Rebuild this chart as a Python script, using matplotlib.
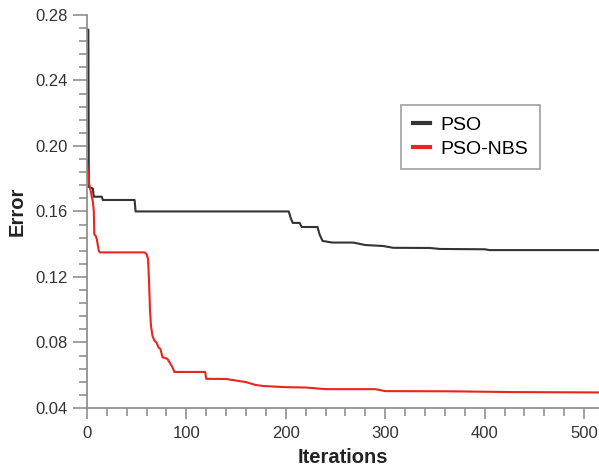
import matplotlib
matplotlib.use("Agg")
import matplotlib.pyplot as plt
from matplotlib.ticker import MultipleLocator

plt.rcParams['font.family'] = ['Liberation Sans', 'DejaVu Sans']

# PSO convergence
pso_iter = [0, 1.5, 2, 6, 7, 15, 16, 48, 49, 203, 205, 207, 214, 216, 232, 234, 237,
            247, 268, 280, 298, 308, 345, 355, 400, 405, 515]
pso_err = [0.271, 0.271, 0.175, 0.174, 0.169, 0.169, 0.167, 0.167, 0.160, 0.160, 0.156,
           0.153, 0.153, 0.1505, 0.1505, 0.146, 0.142, 0.141, 0.141, 0.1395, 0.1389,
           0.1378, 0.1377, 0.1371, 0.1369, 0.1364, 0.1364]

# PSO-NBS convergence
nbs_iter = [0, 2, 4, 6, 7, 7.5, 9, 10, 12, 13, 58, 60, 61.5, 62.5, 63.5, 64.5, 66, 68,
            70, 72, 74, 76, 81, 84, 86, 88, 119, 120, 140, 160, 170, 178, 200, 220,
            240, 290, 300, 363, 430, 515]
nbs_err = [0.191, 0.178, 0.172, 0.166, 0.160, 0.146, 0.145, 0.143, 0.136, 0.135, 0.135,
           0.134, 0.131, 0.118, 0.100, 0.090, 0.084, 0.081, 0.080, 0.077, 0.076, 0.071,
           0.070, 0.067, 0.065, 0.062, 0.062, 0.0578, 0.0577, 0.0558, 0.054, 0.0534,
           0.0527, 0.0525, 0.0515, 0.0515, 0.0503, 0.0502, 0.0497, 0.0495]

fig = plt.figure(figsize=(5.99, 4.66), dpi=100)
ax = fig.add_axes([0.145, 0.1245, 0.855, 0.8435])

ax.plot(pso_iter, pso_err, color='#333333', lw=1.5, label='PSO')
ax.plot(nbs_iter, nbs_err, color='#e8251e', lw=1.5, label='PSO-NBS')

ax.set_xlim(0, 515)
ax.set_ylim(0.04, 0.28)
ax.xaxis.set_major_locator(MultipleLocator(100))
ax.xaxis.set_minor_locator(MultipleLocator(20))
ax.yaxis.set_major_locator(MultipleLocator(0.04))
ax.yaxis.set_minor_locator(MultipleLocator(0.008))
ax.yaxis.set_major_formatter(plt.FuncFormatter(lambda v, p: f'{v:.2f}'))

for s in ['top', 'right']:
    ax.spines[s].set_visible(False)
for s in ['left', 'bottom']:
    ax.spines[s].set_color('#888888')
    ax.spines[s].set_linewidth(1.2)

ax.tick_params(which='both', direction='out', width=1.1, color='#888888',
               labelsize=12, labelcolor='#333333')
ax.tick_params(axis='y', which='major', length=10, pad=4)
ax.tick_params(axis='y', which='minor', length=6)
ax.tick_params(axis='x', which='major', length=8, pad=5)
ax.tick_params(axis='x', which='minor', length=5.5)

ax.set_xlabel('Iterations', fontsize=14.5, fontweight='bold', color='#222222', labelpad=5)
ax.set_ylabel('Error', fontsize=14.5, fontweight='bold', color='#222222', labelpad=6)

leg = ax.legend(loc='upper left', bbox_to_anchor=(0.614, 0.771), borderaxespad=0,
                fontsize=14, handlelength=0.9, handletextpad=0.5, frameon=True,
                fancybox=False, borderpad=0.6, labelspacing=0.3)
leg.get_frame().set_edgecolor('#888888')
leg.get_frame().set_linewidth(1.2)
for line in leg.get_lines():
    line.set_linewidth(3)

fig.savefig('out.png', dpi=100)
